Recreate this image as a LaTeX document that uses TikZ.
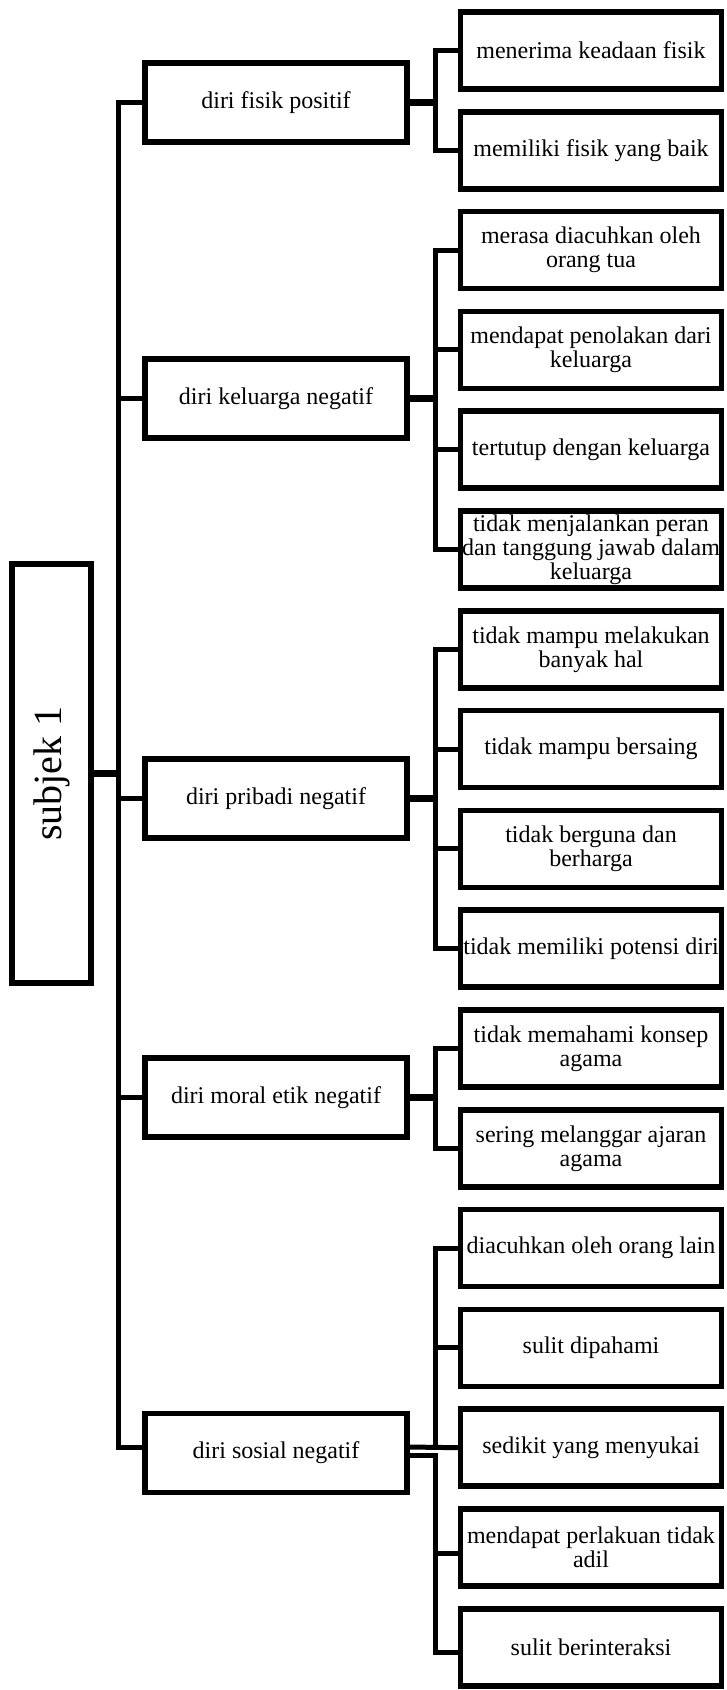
\documentclass[tikz,border=0pt]{standalone}
\usepackage{fontspec}
\setmainfont{Liberation Serif}
\begin{document}
\begin{tikzpicture}[x=1pt,y=-1pt,
  leaf/.style={draw, line width=5.5pt, minimum width=261pt, minimum height=77pt, inner sep=0pt, align=center, font=\fontsize{24}{24}\selectfont},
  cat/.style={draw, line width=5.5pt, minimum width=262pt, minimum height=78.6pt, inner sep=0pt, align=center, font=\fontsize{24}{24}\selectfont},
  root/.style={draw, line width=5.5pt, minimum width=79pt, minimum height=419pt, inner sep=0pt, font=\fontsize{40}{40}\selectfont},
  ln/.style={line width=5pt, line cap=rect},
  thk/.style={line width=7.5pt}]
\useasboundingbox (0,0) rectangle (726,1690);
\coordinate (sp) at (118,0);
\coordinate (bA) at (435,0);
\coordinate (bE) at (435.5,0);
% root
\node[root] (s) at (51.6,773.5) {\rotatebox{90}{subjek 1}};
% categories
\node[cat] (c1) at (276,102.5) {diri fisik positif};
\node[cat] (c2) at (276,398.5) {diri keluarga negatif};
\node[cat] (c3) at (276,798.5) {diri pribadi negatif};
\node[cat] (c4) at (276,1097.5) {diri moral etik negatif};
\node[cat] (c5) at (276,1453) {diri sosial negatif};
% leaves
\node[leaf] (l1) at (591,50.5) {menerima keadaan fisik};
\node[leaf] (l2) at (591,150.3) {memiliki fisik yang baik};
\node[leaf] (l3) at (591,250.1) {merasa diacuhkan oleh\\orang tua};
\node[leaf] (l4) at (591,349.9) {mendapat penolakan dari\\keluarga};
\node[leaf] (l5) at (591,449.7) {tertutup dengan keluarga};
\node[leaf] (l6) at (591,549.5) {tidak menjalankan peran\\dan tanggung jawab dalam\\keluarga};
\node[leaf] (l7) at (591,649.3) {tidak mampu melakukan\\banyak hal};
\node[leaf] (l8) at (591,749.1) {tidak mampu bersaing};
\node[leaf] (l9) at (591,848.9) {tidak berguna dan\\berharga};
\node[leaf] (l10) at (591,948.7) {tidak memiliki potensi diri};
\node[leaf] (l11) at (591,1048.5) {tidak memahami konsep\\agama};
\node[leaf] (l12) at (591,1148.3) {sering melanggar ajaran\\agama};
\node[leaf] (l13) at (591,1248.1) {diacuhkan oleh orang lain};
\node[leaf] (l14) at (591,1347.9) {sulit dipahami};
\node[leaf] (l15) at (591,1447.7) {sedikit yang menyukai};
\node[leaf] (l16) at (591,1547.5) {mendapat perlakuan tidak\\adil};
\node[leaf] (l17) at (591,1647.3) {sulit berinteraksi};
% root to spine
\draw[thk] (s.east) -- (s.east -| sp);
% spine
\draw[ln] (c1.west -| sp) -- ([yshift=6pt]c5.west -| sp);
\foreach \c in {c1,c2,c3,c4} \draw[ln] (\c.west -| sp) -- (\c.west);
\draw[ln] ([yshift=6pt]c5.west -| sp) -- ([yshift=6pt]c5.west);
% category to branch
\foreach \c in {c1,c2,c3,c4} \draw[thk] (\c.east) -- (\c.east -| bA);
% branches
\draw[ln] (l1.west -| bA) -- (l2.west -| bA);
\draw[ln] (l3.west -| bA) -- (l6.west -| bA);
\draw[ln] (l7.west -| bA) -- (l10.west -| bA);
\draw[ln] (l11.west -| bA) -- (l12.west -| bA);
\foreach \l in {l1,l2,l3,l4,l5,l6,l7,l8,l9,l10,l11,l12,l13,l14}
  \draw[ln] (\l.west -| bA) -- (\l.west);
% social group
\draw[ln] ([yshift=6pt]c5.east) -- (l15.west);
\draw[ln] (l13.west -| bA) -- (l15.west -| bA);
\draw[ln] ([yshift=-2pt]c5.east) -- ([yshift=-2pt]c5.east -| bE) -- ([yshift=-5pt]l17.west -| bE);
\draw[ln] ([yshift=-5.5pt]l16.west -| bE) -- ([yshift=-5.5pt]l16.west);
\draw[ln] ([yshift=-5pt]l17.west -| bE) -- ([yshift=-5pt]l17.west);
\end{tikzpicture}
\end{document}
